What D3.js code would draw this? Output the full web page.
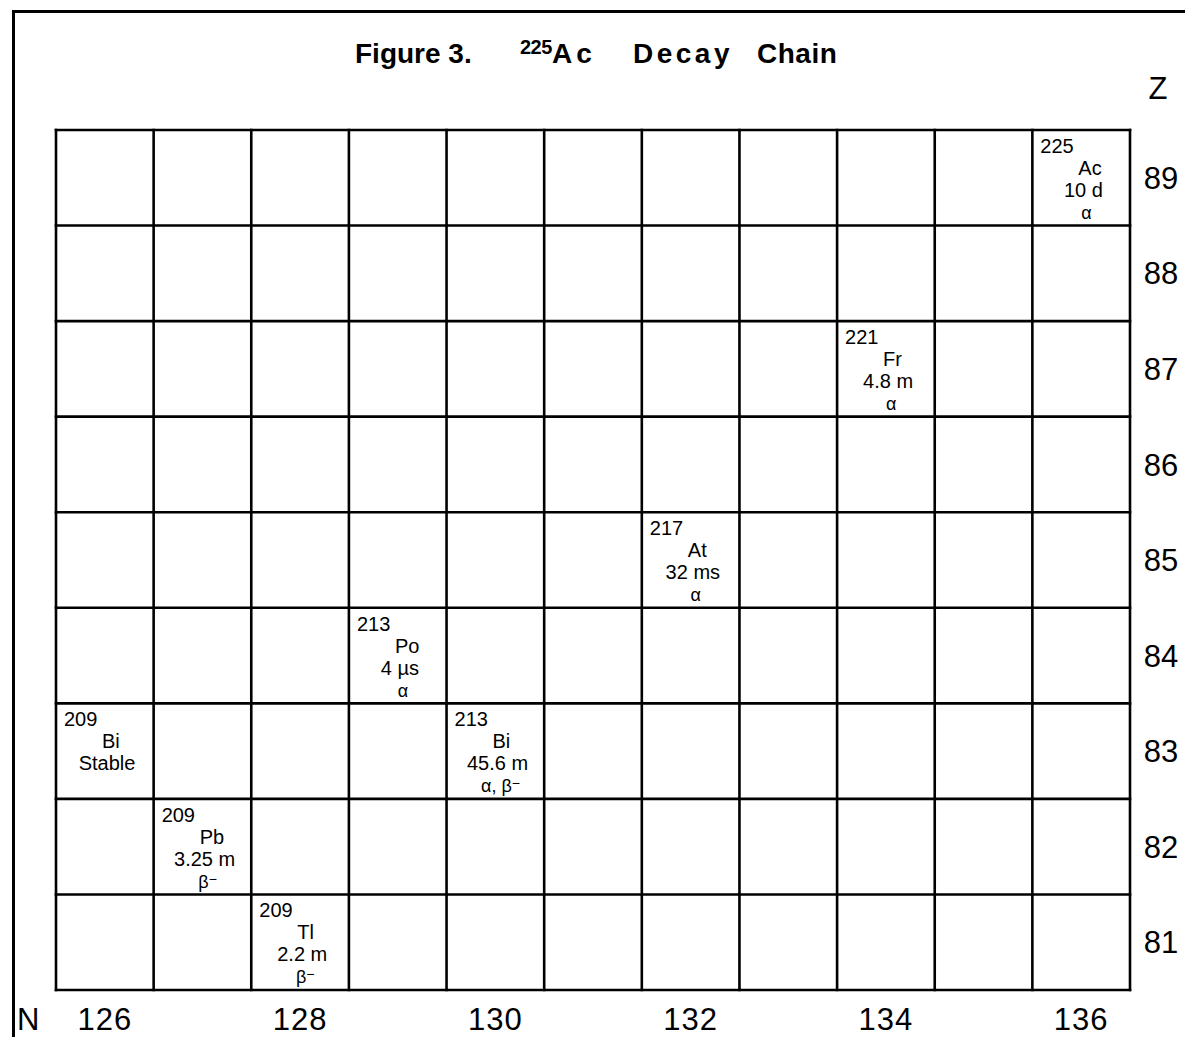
<!DOCTYPE html>
<html><head><meta charset="utf-8">
<script src="https://cdn.jsdelivr.net/npm/d3@7"></script>
<style>body{margin:0;background:#fff}svg{display:block}</style>
</head><body>
<svg id="c" width="1185" height="1037"></svg>
<script>
// ---- data ----
const neutronNumbers = [126,127,128,129,130,131,132,133,134,135,136];
const protonNumbers = [89,88,87,86,85,84,83,82,81];
const nTickLabels = [126,128,130,132,134,136];
const isoN     = [136,134,132,129,130,126,127,128];
const isoZ     = [89,87,85,84,83,83,82,81];
const isoMass  = ["225","221","217","213","213","209","209","209"];
const isoSym   = ["Ac","Fr","At","Po","Bi","Bi","Pb","Tl"];
const isoHalf  = ["10 d","4.8 m","32 ms","4 \u00b5s","45.6 m","Stable","3.25 m","2.2 m"];
const isoDecay = ["\u03b1","\u03b1","\u03b1","\u03b1","\u03b1, \u03b2-","","\u03b2-","\u03b2-"];

const svg = d3.select("#c");
const x = d3.scaleBand().domain(neutronNumbers).range([56,1130]);
const y = d3.scaleBand().domain(protonNumbers).range([130,990]);
const font = "'Liberation Sans', Arial, sans-serif";

// outer frame
svg.append("line").attr("x1",12).attr("x2",1185).attr("y1",11.5).attr("y2",11.5).attr("stroke","#000").attr("stroke-width",3);
svg.append("line").attr("x1",13.5).attr("x2",13.5).attr("y1",10).attr("y2",1037).attr("stroke","#000").attr("stroke-width",3);

// grid
const g = svg.append("g").attr("stroke","#000").attr("stroke-width",2.6).attr("stroke-linecap","square");
const xs = neutronNumbers.map(n=>x(n)).concat([x.range()[1]]);
const ys = protonNumbers.map(z=>y(z)).concat([y.range()[1]]);
xs.forEach(v=>g.append("line").attr("x1",v).attr("x2",v).attr("y1",ys[0]).attr("y2",ys[ys.length-1]));
ys.forEach(v=>g.append("line").attr("y1",v).attr("y2",v).attr("x1",xs[0]).attr("x2",xs[xs.length-1]));

// title
const t = svg.append("g").attr("font-family",font).attr("font-weight","bold").attr("fill","#000").attr("font-size",28);
t.append("text").attr("x",355).attr("y",63).text("Figure 3.");
t.append("text").attr("x",520).attr("y",54).attr("font-size",20).attr("letter-spacing",-0.5).text("225");
t.append("text").attr("x",552).attr("y",63).attr("letter-spacing",4).text("Ac");
t.append("text").attr("x",633).attr("y",63).attr("letter-spacing",3.5).text("Decay");
t.append("text").attr("x",757).attr("y",63).attr("letter-spacing",0.5).text("Chain");

// axis labels
const ax = svg.append("g").attr("font-family",font).attr("font-size",31).attr("fill","#000");
ax.append("text").attr("x",17).attr("y",1030).text("N");
ax.append("text").attr("x",1158).attr("y",99).attr("text-anchor","middle").text("Z");
nTickLabels.forEach(n=>ax.append("text").attr("x",x(n)+x.bandwidth()/2).attr("y",1030)
  .attr("text-anchor","middle").attr("letter-spacing",1).text(n));
protonNumbers.forEach(z=>ax.append("text").attr("x",1161).attr("y",y(z)+y.bandwidth()/2)
  .attr("dy","0.36em").attr("text-anchor","middle").text(z));

// isotope cells
const cells = svg.append("g").attr("font-family",font).attr("font-size",20).attr("fill","#000");
isoN.forEach((n,i)=>{
  const x0 = x(n), y0 = y(isoZ[i]);
  const c = cells.append("g");
  c.append("text").attr("x",x0+8).attr("y",y0+23).text(isoMass[i]);
  c.append("text").attr("x",x0+46).attr("y",y0+45).text(isoSym[i]);
  c.append("text").attr("x",x0+51).attr("y",y0+67).attr("text-anchor","middle").text(isoHalf[i]);
  const d = isoDecay[i];
  if (d) {
    const tx = c.append("text").attr("x",x0+54).attr("y",y0+89).attr("text-anchor","middle").attr("font-size",18);
    const parts = d.split("-");
    tx.append("tspan").text(parts[0]);
    if (parts.length>1) tx.append("tspan").attr("dy",-4).attr("font-size",14).text("\u2212");
  }
});
</script>
</body></html>
